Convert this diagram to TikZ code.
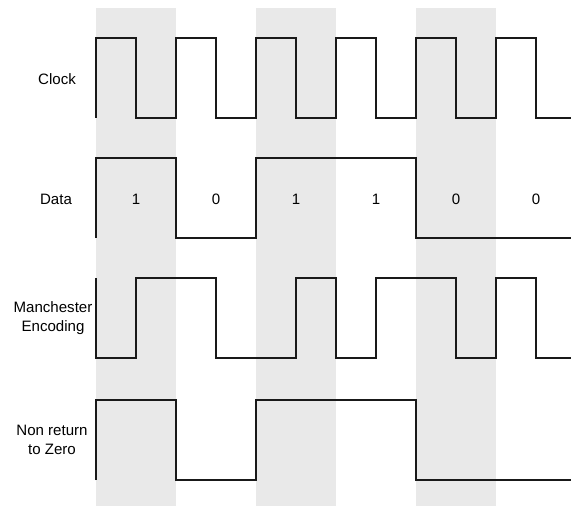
\documentclass[tikz,border=0pt]{standalone}
\usepackage{fontspec}
\setmainfont{Liberation Sans}
\begin{document}
\begin{tikzpicture}[x=0.75pt,y=-0.75pt,
  wave/.style={draw=black!90,line width=1.5pt,line join=miter},
  band/.style={fill=black!8.5,draw=none},
  lbl/.style={font=\fontsize{11.3}{14.4}\selectfont,align=center,inner sep=0pt},
  bit/.style={font=\fontsize{11.3}{14}\selectfont,inner sep=0pt}]
\useasboundingbox (0,0) rectangle (571,506);
% shaded bit slots
\foreach \x in {96,256,416}
  \fill[band] (\x,8) rectangle (\x+80,506);
% row labels
\node[lbl] (lclk) at (57,79) {Clock};
\node[lbl] (ldat) at (56,199) {Data};
\node[lbl] (lman) at (53,318.5) {Manchester\\Encoding};
\node[lbl] (lnrz) at (52,439.5) {Non return\\to Zero};
% clock
\draw[wave] (96,118) -- (96,38)
  \foreach \x in {96,176,256,336,416} {-- (\x+40,38) -- (\x+40,118) -- (\x+80,118) -- (\x+80,38)}
  -- (536,38) -- (536,118) -- (571,118);
% data
\draw[wave] (96,238) -- (96,158) -- (176,158) -- (176,238) -- (256,238) -- (256,158)
  -- (416,158) -- (416,238) -- (571,238);
\foreach \x/\b in {136/1,216/0,296/1,376/1,456/0,536/0}
  \node[bit] at (\x,199) {\b};
% manchester encoding
\draw[wave] (96,278) -- (96,358) -- (136,358) -- (136,278) -- (216,278) -- (216,358)
  -- (296,358) -- (296,278) -- (336,278) -- (336,358) -- (376,358) -- (376,278)
  -- (456,278) -- (456,358) -- (496,358) -- (496,278) -- (536,278) -- (536,358) -- (571,358);
% non return to zero
\draw[wave] (96,480) -- (96,400) -- (176,400) -- (176,480) -- (256,480) -- (256,400)
  -- (416,400) -- (416,480) -- (571,480);
\end{tikzpicture}
\end{document}
